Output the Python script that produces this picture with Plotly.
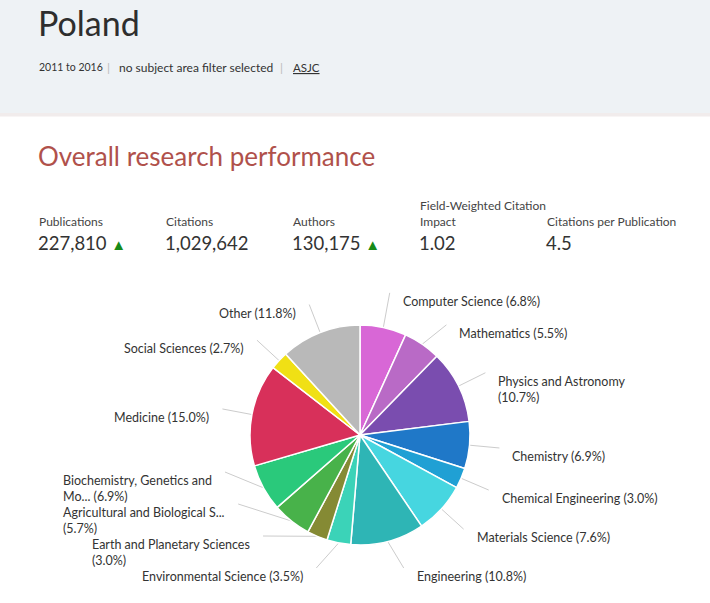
import math
import plotly.graph_objects as go

W, H = 710, 603
FONT = "Lato"

# ---------------- data ----------------
country = "Poland"
period = "2011 to 2016"
filter_text = "no subject area filter selected"
classification = "ASJC"
section_title = "Overall research performance"

metric_names = ["Publications", "Citations", "Authors",
                "Field-Weighted Citation<br>Impact", "Citations per Publication"]
metric_values = ["227,810", "1,029,642", "130,175", "1.02", "4.5"]
metric_up = [True, False, True, False, False]

categories = ["Computer Science", "Mathematics", "Physics and Astronomy", "Chemistry",
              "Chemical Engineering", "Materials Science", "Engineering",
              "Environmental Science", "Earth and Planetary Sciences",
              "Agricultural and Biological S...", "Biochemistry, Genetics and Mo...",
              "Medicine", "Social Sciences", "Other"]
shares = [6.8, 5.5, 10.7, 6.9, 3.0, 7.6, 10.8, 3.5, 3.0, 5.7, 6.9, 15.0, 2.7, 11.8]
slice_labels = ["Computer Science (6.8%)", "Mathematics (5.5%)",
                "Physics and Astronomy<br>(10.7%)", "Chemistry (6.9%)",
                "Chemical Engineering (3.0%)", "Materials Science (7.6%)",
                "Engineering (10.8%)", "Environmental Science (3.5%)",
                "Earth and Planetary Sciences<br>(3.0%)",
                "Agricultural and Biological S...<br>(5.7%)",
                "Biochemistry, Genetics and<br>Mo... (6.9%)",
                "Medicine (15.0%)", "Social Sciences (2.7%)", "Other (11.8%)"]
colors = ["#d867d6", "#b96ac6", "#7a4daf", "#1f78c8", "#20a0d4", "#46d6e0", "#2eb5b5",
          "#3bd3b8", "#858a34", "#48b24a", "#2ac97b", "#d8305a", "#f0e015", "#b9b9b9"]

# ---------------- geometry ----------------
cx, cy, r = 360, 435, 110
R = r + 30
SP = 32

total = sum(shares)
mids = []
acc = 0.0
for v in shares:
    mids.append((acc + v / 2) / total * 2 * math.pi)
    acc += v
nat = [(cx + R * math.sin(t), cy - R * math.cos(t)) for t in mids]


def distribute(idx, lo, hi):
    items = sorted(idx, key=lambda i: nat[i][1])
    clusters = []
    for i in items:
        clusters.append([[i], nat[i][1]])
        while True:
            cl = clusters[-1]
            n = len(cl[0])
            mean = sum(nat[j][1] for j in cl[0]) / n
            start = mean - (n - 1) * SP / 2
            start = max(lo, min(start, hi - (n - 1) * SP))
            cl[1] = start
            if len(clusters) > 1:
                prev = clusters[-2]
                pend = prev[1] + (len(prev[0]) - 1) * SP
                if start < pend + SP:
                    prev[0].extend(cl[0])
                    clusters.pop()
                    continue
            break
    pos = {}
    for members, start in clusters:
        for k, j in enumerate(members):
            pos[j] = start + k * SP
    return pos


right = [i for i, t in enumerate(mids) if t < math.pi]
left = [i for i, t in enumerate(mids) if t >= math.pi]
ypos = {}
ypos.update(distribute(right, cy - R - 10, cy + R - 7))
ypos.update(distribute(left, cy - R - 10, cy + R - 7))

fig = go.Figure()

line_x, line_y = [], []
annotations = []
for i, t in enumerate(mids):
    y = ypos[i]
    dy = y - cy
    side = 1 if t < math.pi else -1
    dx = max(math.sqrt(max(R * R - dy * dy, 0)), abs(nat[i][0] - cx))
    x = cx + side * dx
    ex, ey = cx + r * math.sin(t), cy - r * math.cos(t)
    line_x += [ex, x, None]
    line_y += [ey, y, None]
    annotations.append(dict(
        x=x + side * 11, y=y - 1, xref="x", yref="y",
        text=slice_labels[i], showarrow=False,
        xanchor="left" if side > 0 else "right", yanchor="top", align="left",
        font=dict(family=FONT, size=12.5, color="#333333")))

fig.add_trace(go.Scatter(x=line_x, y=line_y, mode="lines",
                         line=dict(color="#cccccc", width=1),
                         hoverinfo="skip", showlegend=False))

fig.add_trace(go.Pie(
    values=shares, labels=categories, sort=False, direction="clockwise", rotation=0,
    marker=dict(colors=colors, line=dict(color="white", width=1.5)),
    textinfo="none", hoverinfo="label+percent", showlegend=False,
    domain=dict(x=[(cx - r) / W, (cx + r) / W], y=[(H - cy - r) / H, (H - cy + r) / H])))

# ---------------- page text ----------------
annotations.append(dict(x=36, y=22, text=country, xanchor="left", yanchor="middle",
                        font=dict(family=FONT, size=34, color="#2e2e2e")))
sub_parts = [(37, period, "#333333", 10.5), (105, "|", "#bbbbbb", 12),
             (117, filter_text, "#333333", 12), (278, "|", "#bbbbbb", 12),
             (291, "<u>" + classification + "</u>", "#333333", 11.5)]
for x, txt, col, fs in sub_parts:
    annotations.append(dict(x=x, y=67, text=txt, xanchor="left", yanchor="middle",
                            font=dict(family=FONT, size=fs, color=col)))
annotations.append(dict(x=36, y=156, text=section_title, xanchor="left", yanchor="middle",
                        font=dict(family=FONT, size=26, color="#b0514b")))
for k, (nm, val, up) in enumerate(zip(metric_names, metric_values, metric_up)):
    x0 = 38 + 127 * k
    annotations.append(dict(x=x0 - 1, y=231, text=nm, xanchor="left", yanchor="bottom",
                            align="left", font=dict(family=FONT, size=12, color="#444444")))
    txt = val
    if up:
        txt += " <span style='color:#178a17;font-size:15px'>▲</span>"
    annotations.append(dict(x=x0 - 2, y=243, text=txt, xanchor="left", yanchor="middle",
                            font=dict(family=FONT, size=18.5, color="#333333")))

for a in annotations:
    a.setdefault("xref", "x")
    a.setdefault("yref", "y")
    a.setdefault("showarrow", False)

shapes = [
    dict(type="rect", xref="x", yref="y", x0=0, x1=W, y0=0, y1=113,
         fillcolor="#eef2f5", line=dict(width=0), layer="below"),
    dict(type="rect", xref="x", yref="y", x0=0, x1=W, y0=113, y1=116.5,
         fillcolor="#f1ecec", line=dict(width=0), layer="below"),
]

fig.update_layout(
    width=W, height=H, margin=dict(l=0, r=0, t=0, b=0),
    paper_bgcolor="white", plot_bgcolor="rgba(0,0,0,0)",
    xaxis=dict(range=[0, W], visible=False, fixedrange=True),
    yaxis=dict(range=[H, 0], visible=False, fixedrange=True),
    annotations=annotations, shapes=shapes, showlegend=False,
)

fig.write_html("out.html")
